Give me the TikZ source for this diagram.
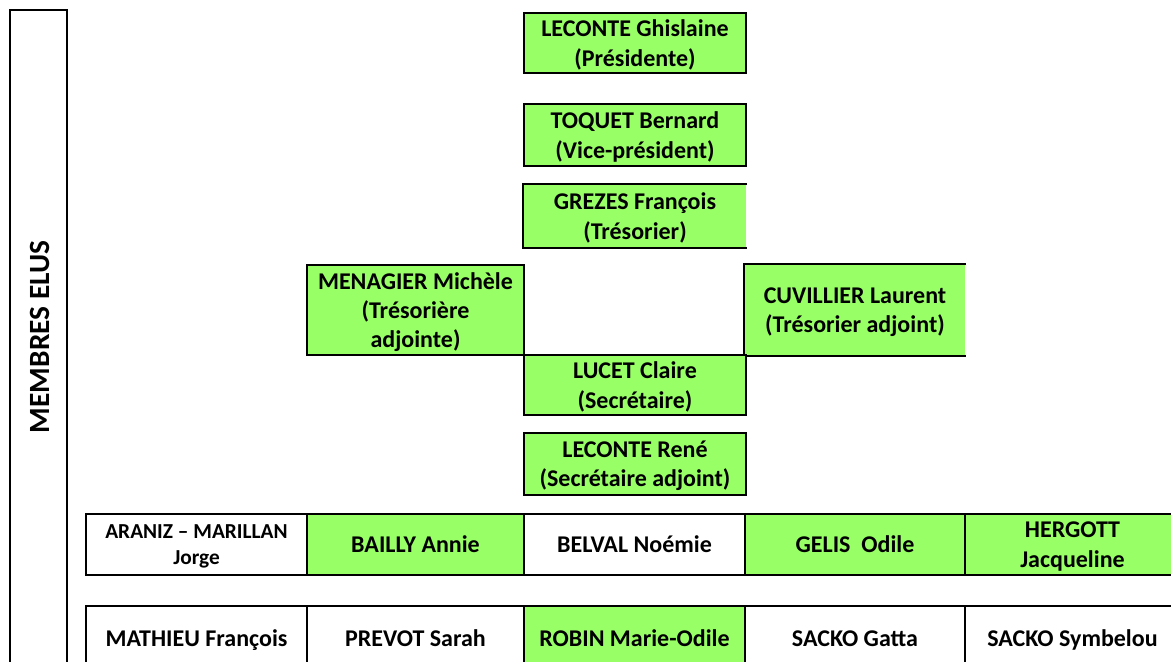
\documentclass[tikz,border=0pt]{standalone}
\usepackage{fontspec}
\setmainfont{Carlito}
\definecolor{elugreen}{RGB}{153,255,102}

\tikzset{%
  member/.style={
    rectangle,
    draw=black,
    line width=1.5pt,
    fill=elugreen,
    align=center,
    inner sep=0pt,
    text depth=0pt,
    execute at begin node=\vphantom{l},
    font=\fontsize{18}{22}\selectfont\bfseries
  },
  member open/.style={
    member,
    draw=none
  },
  member plain/.style={
    member,
    fill=white
  },
  member small/.style={
    member plain,
    font=\fontsize{16}{20}\selectfont\bfseries
  },
}

\begin{document}
\begin{tikzpicture}[x=0.75pt, y=-0.75pt]
\useasboundingbox (0,0) rectangle (1171,661);
\clip (0,0) rectangle (1171,661);
%=========================================================================================================
% Title column
%=========================================================================================================
\node [member plain, minimum width=42.75pt, minimum height=502.5pt] (title) at (38.5,345) {};
\node [rotate=90, font=\fontsize{22}{26}\selectfont\bfseries] (title-text) at (40,337) {MEMBRES ELUS};

%=========================================================================================================
% Bureau
%=========================================================================================================
\node [member, minimum width=166.5pt, minimum height=45pt] (president) at (635,43) {LECONTE Ghislaine\\(Présidente)};
\node [member, minimum width=166.5pt, minimum height=46.5pt] (vice) at (635,135) {TOQUET Bernard\\(Vice-président)};

%Treasurer, right side left open
\node [member open, minimum width=166.5pt, minimum height=46.5pt] (treasurer) at (635,216) {GREZES François\\(Trésorier)};
\draw [line width=1.5pt] (treasurer.north east) -- (treasurer.north west) -- (treasurer.south west) -- (treasurer.south east);

%Assistant treasurers on both sides
\node [member, minimum width=162.75pt, minimum height=67.5pt] (treasurer-adj1) at (415.5,310) {MENAGIER Michèle\\(Trésorière\\adjointe)};
\node [member open, minimum width=165pt, minimum height=67.5pt] (treasurer-adj2) at (855,310) {CUVILLIER Laurent\\(Trésorier adjoint)};
\draw [line width=1.5pt] (treasurer-adj2.north east) -- (treasurer-adj2.north west) -- (treasurer-adj2.south west) -- (treasurer-adj2.south east);

\node [member, minimum width=166.5pt, minimum height=45pt] (secretary) at (635,385) {LUCET Claire\\(Secrétaire)};
\node [member, minimum width=166.5pt, minimum height=46.5pt] (secretary-adj) at (635,464) {LECONTE René\\(Secrétaire adjoint)};

%=========================================================================================================
% Members - row 1
%=========================================================================================================
\foreach \l/\x/\w/\s [count=\i] in {%
    ARANIZ – MARILLAN\\Jorge/196.5/165.75/member small,
    BAILLY Annie/415.5/162.75/member,
    BELVAL Noémie/634.5/165.75/member plain,
    GELIS~~Odile/855/165/member,
    HERGOTT\\Jacqueline/1072.5/161.25/member}
  \node [\s, minimum width=\w pt, minimum height=45.75pt] (row1-\i) at (\x,544.5) {\l};

%=========================================================================================================
% Members - row 2
%=========================================================================================================
\foreach \l/\x/\w/\s [count=\i] in {%
    MATHIEU François/196.5/165.75/member plain,
    PREVOT Sarah/415.5/162.75/member plain,
    ROBIN Marie-Odile/634.5/165.75/member,
    SACKO Gatta/855/165/member plain,
    SACKO Symbelou/1072.5/161.25/member plain}
  \node [\s, minimum width=\w pt, minimum height=48pt] (row2-\i) at (\x,638) {\l};

\end{tikzpicture}
\end{document}
